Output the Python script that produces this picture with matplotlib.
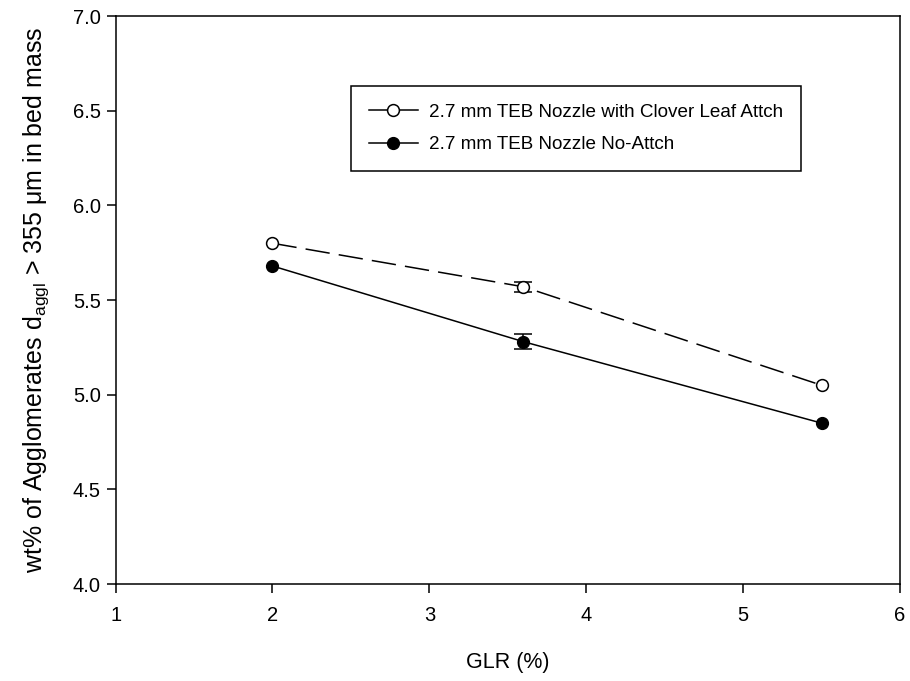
import numpy as np
import matplotlib
matplotlib.use('Agg')
import matplotlib.pyplot as plt
import matplotlib.lines as mlines

plt.rcParams['font.family'] = ['Liberation Sans', 'DejaVu Sans']
plt.rcParams['mathtext.fontset'] = 'custom'
plt.rcParams['mathtext.rm'] = 'Liberation Sans'
plt.rcParams['mathtext.it'] = 'Liberation Sans'

# GLR (%) and wt% agglomerates
glr = np.array([2.0, 3.6, 5.5])
clover = np.array([5.80, 5.57, 5.05])
clover_err = np.array([0.0, 0.025, 0.0])
no_attch = np.array([5.68, 5.28, 4.85])
no_attch_err = np.array([0.0, 0.04, 0.0])

labels = ['2.7 mm TEB Nozzle with Clover Leaf Attch', '2.7 mm TEB Nozzle No-Attch']

fig = plt.figure(figsize=(9.1, 6.81), dpi=100)
ax = fig.add_axes([0.127, 0.1424, 0.862, 0.834])

lw = 1.1
ms = 8.5

# series lines with markers
ax.plot(glr, clover, color='k', lw=lw, dashes=(16, 6), marker='o', ms=ms,
        mfc='white', mec='k', mew=lw, zorder=3)
ax.plot(glr, no_attch, color='k', lw=lw, marker='o', ms=ms,
        mfc='k', mec='k', zorder=3)

# error bars only where there is a spread
for y, e in [(clover, clover_err), (no_attch, no_attch_err)]:
    m = e > 0
    ax.errorbar(glr[m], y[m], yerr=e[m], fmt='none', ecolor='k',
                elinewidth=lw, capsize=6.5, capthick=lw, zorder=2)

ax.set_xlim(1, 6)
ax.set_ylim(4.0, 7.0)
ax.set_xticks([1, 2, 3, 4, 5, 6])
ax.set_yticks(np.arange(4.0, 7.01, 0.5))
ax.yaxis.set_major_formatter(plt.FormatStrFormatter('%.1f'))
ax.tick_params(direction='out', length=6.5, width=lw, labelsize=14.5, pad=4)
ax.tick_params(axis='x', pad=9)
for s in ax.spines.values():
    s.set_linewidth(lw)

ax.set_xlabel('GLR (%)', fontsize=15.5, labelpad=20)
ax.set_ylabel(r'wt% of Agglomerates d$_{\mathrm{aggl}}$ > 355 $\mathrm{\mu}$m in bed mass',
              fontsize=18, labelpad=16)

# legend with solid lines for both series
h1 = mlines.Line2D([], [], color='k', lw=lw, marker='o', ms=ms, mfc='white', mew=lw)
h2 = mlines.Line2D([], [], color='k', lw=lw, marker='o', ms=ms, mfc='k')
leg = ax.legend(handles=[h1, h2], labels=labels, loc='upper left',
                bbox_to_anchor=(0.2996, 0.877), fontsize=13.6, fancybox=False,
                framealpha=1, edgecolor='k', handlelength=2.6, handletextpad=0.6,
                borderpad=0.95, labelspacing=0.8, borderaxespad=0)
leg.get_frame().set_linewidth(lw)

fig.savefig('out.png', dpi=100)
